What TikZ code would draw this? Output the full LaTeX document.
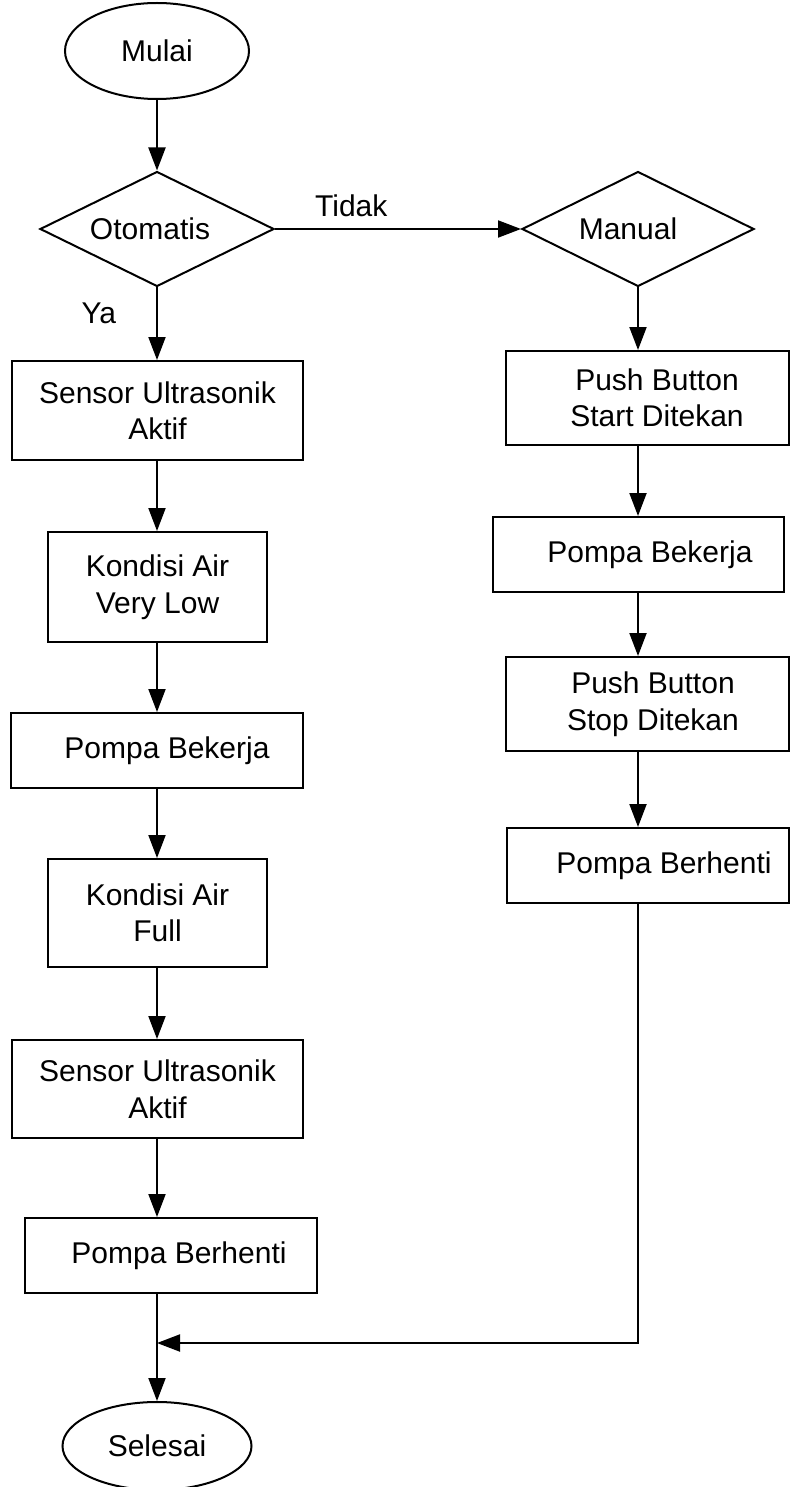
\documentclass[tikz,border=0pt]{standalone}
\usepackage{fontspec}
\setmainfont{Liberation Sans}
\usetikzlibrary{shapes.geometric,arrows.meta}
\begin{document}
\begin{tikzpicture}[x=1pt,y=-1pt,
  every node/.style={font=\fontsize{30}{36.5}\selectfont},
  base/.style={draw=black, line width=2pt, inner sep=0pt, align=center},
  term/.style={base, ellipse},
  dec/.style={base, diamond, inner sep=0pt, aspect=2.03},
  proc/.style={base, rectangle},
  arr/.style={line width=2pt, -{Triangle[length=23pt,width=17pt]}},
  lbl/.style={inner sep=0pt}]
\useasboundingbox (0,0) rectangle (790,1487);
\fill[white] (0,0) rectangle (790,1487);
% left column
\node[term, minimum width=184pt, minimum height=96pt] (mulai) at (157,51) {Mulai};
\node[dec, minimum width=234pt, minimum height=115pt] (oto) at (157,229) {\makebox[0pt]{Otomatis\hspace*{14pt}}};
\node[proc, minimum width=291pt, minimum height=99pt] (sens1) at (157.5,410.5) {Sensor Ultrasonik\\Aktif};
\node[proc, minimum width=219pt, minimum height=110pt] (kond1) at (157.5,587) {Kondisi Air\\Very Low};
\node[proc, minimum width=292pt, minimum height=75pt] (pomp1) at (157,750.5) {\hspace*{20pt}Pompa Bekerja};
\node[proc, minimum width=219pt, minimum height=108pt] (kond2) at (157.5,913) {Kondisi Air\\Full};
\node[proc, minimum width=291pt, minimum height=98pt] (sens2) at (157.5,1089) {Sensor Ultrasonik\\Aktif};
\node[proc, minimum width=292pt, minimum height=75pt] (stop1) at (171,1255.5) {\hspace*{16pt}Pompa Berhenti};
\node[term, minimum width=189pt, minimum height=88pt] (selesai) at (157,1446) {Selesai};
% right column
\node[dec, minimum width=232pt, minimum height=115pt] (man) at (638,229) {\makebox[0pt]{Manual\hspace*{20pt}}};
\node[proc, minimum width=283pt, minimum height=94pt] (pbs) at (647.5,398) {\hspace*{19pt}Push Button\\\hspace*{19pt}Start Ditekan};
\node[proc, minimum width=291pt, minimum height=75pt] (pomp2) at (638.5,554.5) {\hspace*{23pt}Pompa Bekerja};
\node[proc, minimum width=283pt, minimum height=94pt] (pbstop) at (647.5,704) {\hspace*{11pt}Push Button\\\hspace*{11pt}Stop Ditekan};
\node[proc, minimum width=282pt, minimum height=75pt] (stop2) at (648,865.5) {\hspace*{32pt}Pompa Berhenti};
\coordinate (j) at (157,1343);
% connectors
\draw[arr] (mulai.south) -- (oto.north);
\draw[arr] (oto.south) -- node[lbl, pos=0.36, left=40pt] {Ya} (sens1.north -| oto.south);
\draw[arr] (oto.east) -- node[lbl, pos=0.31, above=11pt] {Tidak} (man.west);
\draw[arr] (sens1.south -| oto.south) -- (kond1.north -| oto.south);
\draw[arr] (kond1.south -| oto.south) -- (pomp1.north -| oto.south);
\draw[arr] (pomp1.south -| oto.south) -- (kond2.north -| oto.south);
\draw[arr] (kond2.south -| oto.south) -- (sens2.north -| oto.south);
\draw[arr] (sens2.south -| oto.south) -- (stop1.north -| oto.south);
\draw[arr] (stop1.south -| j) -- (selesai.north -| j);
\draw[arr] (man.south) -- (pbs.north -| man.south);
\draw[arr] (pbs.south -| man.south) -- (pomp2.north -| man.south);
\draw[arr] (pomp2.south -| man.south) -- (pbstop.north -| man.south);
\draw[arr] (pbstop.south -| man.south) -- (stop2.north -| man.south);
\draw[arr] (stop2.south -| man.south) |- (j);
\end{tikzpicture}
\end{document}
